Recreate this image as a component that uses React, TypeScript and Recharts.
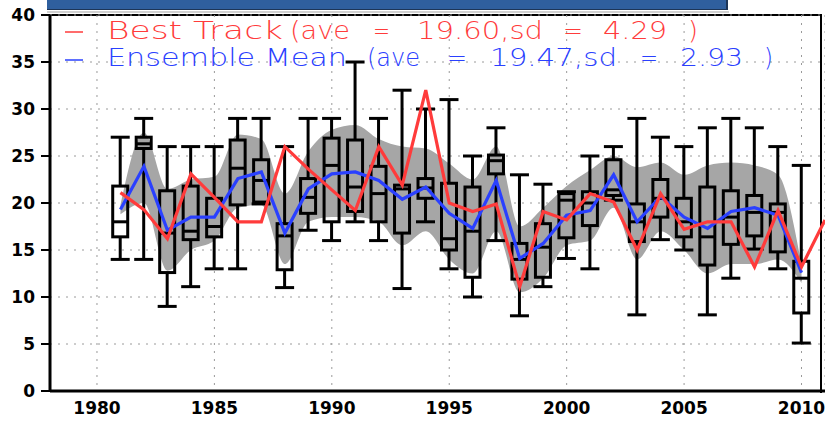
import React from 'react';
import { ComposedChart, Area, Bar, Line, XAxis, YAxis, CartesianGrid } from 'recharts';

// Ensemble box statistics per season
const years = [
  1981, 1982, 1983, 1984, 1985, 1986, 1987, 1988, 1989, 1990,
  1991, 1992, 1993, 1994, 1995, 1996, 1997, 1998, 1999, 2000,
  2001, 2002, 2003, 2004, 2005, 2006, 2007, 2008, 2009, 2010,
];
const whiskerHigh = [27, 29, 26, 26, 26, 29, 29, 26, 29, 29, 35, 29, 32, 30, 31, 25, 28, 23, 22, 21.2, 25, 26, 29, 27, 26, 28, 29, 28, 26, 24];
const boxHigh = [21.8, 27, 21.3, 21.8, 20.5, 26.7, 24.6, 17.8, 22.6, 26.9, 26.7, 23.9, 21.9, 22.6, 22.1, 21.7, 25.1, 15.7, 17.8, 21, 21.2, 24.6, 19.9, 22.5, 20.5, 21.7, 21.3, 20.8, 19.9, 13.8];
const medians = [18, 26.3, 16.8, 17, 17.5, 23.7, 22.4, 16.5, 20.6, 24, 21.7, 21, 21.5, 21.6, 16.2, 17, 24.5, 14, 15.3, 20.3, 20, 21.4, 18, 20.5, 18, 16.4, 18.5, 19, 19, 12];
const boxLow = [16.4, 25.8, 12.6, 16.1, 16.4, 19.8, 20.1, 12.9, 18.9, 18, 19.1, 18, 16.8, 20.5, 15, 12.1, 23.1, 11.9, 12.1, 16.3, 17.6, 20.8, 15.9, 18.5, 16.4, 13.4, 15.6, 16.5, 14.8, 8.3];
const whiskerLow = [14, 14, 9, 11.1, 13, 13, 19.9, 11, 17.1, 16, 18, 16, 10.9, 18, 13, 10, 16, 8, 11.1, 14.1, 13, 20.3, 8.1, 16.1, 15, 8.1, 12, 15.1, 13, 5.1];

// Ensemble spread envelope and ensemble mean
const spreadLow = [18.8, 20, 12.8, 15, 16, 19.5, 19.8, 13.5, 18, 18.5, 18.5, 18, 15.5, 17, 14, 12.5, 17, 10.5, 12, 15.5, 16, 19.5, 14, 17, 15, 12.5, 13.5, 13.5, 14, 11.5];
const spreadHigh = [19.8, 27.5, 21.5, 22.5, 22.8, 27.3, 26.8, 21, 25.5, 27.8, 28.3, 26.8, 26, 25.8, 24.2, 22.5, 26, 17.5, 19.5, 21.8, 23.5, 25, 23.8, 24.3, 23, 24, 24.3, 24, 23, 13.5];
const ensembleMean = [19.3, 23.9, 17.1, 18.5, 18.5, 22.6, 23.3, 16.8, 21.5, 23.1, 23.3, 22.4, 20.4, 21.7, 18.9, 17.3, 22.4, 14.1, 15.7, 18.7, 19.2, 23, 18, 20.7, 18.5, 17.3, 19.1, 19.5, 18.7, 12.6];

// Observed best track counts
const bestTrackYears = [
  1981, 1982, 1983, 1984, 1985, 1986, 1987, 1988, 1989, 1990,
  1991, 1992, 1993, 1994, 1995, 1996, 1997, 1998, 1999, 2000,
  2001, 2002, 2003, 2004, 2005, 2006, 2007, 2008, 2009, 2010, 2011,
];
const bestTrack = [21.1, 19.3, 16.2, 23.1, 20.6, 18, 18, 26, 23.6, 21.4, 19.2, 26, 21.9, 32, 20, 19.1, 19.9, 11.1, 19.1, 18.2, 21, 20.1, 15, 21, 17.2, 18, 18, 13.2, 19.2, 13.2, 18.2];

const bestTrackStats = { ave: 19.6, sd: 4.29 };
const ensembleStats = { ave: 19.47, sd: 2.93 };

const xTicks = [1980, 1985, 1990, 1995, 2000, 2005, 2010];
const yTicks = [0, 5, 10, 15, 20, 25, 30, 35, 40];

const RED = '#ff3b3b';
const BLUE = '#2a40ff';
const GREY = '#a6a6a6';

const data = bestTrackYears.map((year, i) => {
  const j = years.indexOf(year);
  const row: any = { year, best: bestTrack[i] };
  if (j >= 0) {
    row.ens = ensembleMean[j];
    row.spread = [spreadLow[j], spreadHigh[j]];
    row.whisker = [whiskerLow[j], whiskerHigh[j]];
    row.q1 = boxLow[j];
    row.med = medians[j];
    row.q3 = boxHigh[j];
  }
  return row;
});

// Box-and-whisker glyph drawn inside the bar spanning the whisker range
const BoxWhisker = (props: any) => {
  const { x, y, width, height, payload } = props;
  if (!payload || !payload.whisker) return null;
  const [lo, hi] = payload.whisker;
  const top = Math.min(y, y + height);
  const h = Math.abs(height);
  const k = h / (hi - lo);
  const py = (v: number) => top + (hi - v) * k;
  const cx = x + width / 2;
  const bw = 15;
  const cw = 19;
  return (
    <g stroke="#000" strokeWidth={3} fill="none">
      <line x1={cx} x2={cx} y1={py(hi)} y2={py(payload.q3)} />
      <line x1={cx} x2={cx} y1={py(payload.q1)} y2={py(lo)} />
      <line x1={cx - cw / 2} x2={cx + cw / 2} y1={py(hi)} y2={py(hi)} />
      <line x1={cx - cw / 2} x2={cx + cw / 2} y1={py(lo)} y2={py(lo)} />
      <rect x={cx - bw / 2} y={py(payload.q3)} width={bw} height={py(payload.q1) - py(payload.q3)} />
      <line x1={cx - bw / 2} x2={cx + bw / 2} y1={py(payload.med)} y2={py(payload.med)} />
    </g>
  );
};

const fmt = (v: number) => v.toFixed(2);

const legendRows = [
  {
    color: RED,
    baseline: 39,
    dashY: 32,
    tokens: [
      ['Best Track', 107, 283],
      ['(ave', 290, 350],
      ['=', 373, 390],
      [`${fmt(bestTrackStats.ave)},sd`, 417, 543],
      ['=', 563, 583],
      [fmt(bestTrackStats.sd), 603, 667],
      [')', 688, 698],
    ],
  },
  {
    color: BLUE,
    baseline: 66,
    dashY: 60,
    tokens: [
      ['Ensemble Mean', 107, 347],
      ['(ave', 367, 420],
      ['=', 447, 467],
      [`${fmt(ensembleStats.ave)},sd`, 490, 617],
      ['=', 640, 658],
      [fmt(ensembleStats.sd), 680, 743],
      [')', 764, 773],
    ],
  },
];

const tickStyle = { fontFamily: 'DejaVu Sans', fontWeight: 700, fontSize: 17, fill: '#000' };

export default function App() {
  return (
    <div style={{ position: 'absolute', left: 0, top: 0, width: 825, height: 422, background: '#fff', overflow: 'hidden' }}>
      {/* title banner strip */}
      <div style={{ position: 'absolute', left: 47, top: -2, width: 679, height: 11, background: '#2f5f9e', borderRight: '2px solid #1d3557', borderBottom: '1px solid #1d3557' }} />
      <div style={{ position: 'absolute', left: 47, top: 11, width: 682, height: 2, background: '#d0d0d0' }} />
      {/* plot frame */}
      <div style={{ position: 'absolute', left: 50, top: 14, width: 770, height: 377, borderTop: '2px solid #000', borderRight: '2px solid #000' }} />
      <div style={{ position: 'absolute', left: 0, top: 0 }}>
        <ComposedChart width={825} height={422} data={data} margin={{ top: 15, right: 0, bottom: 0, left: 0 }}>
          <CartesianGrid stroke="#9a9a9a" strokeDasharray="2 6" />
          <XAxis
            dataKey="year"
            type="number"
            domain={[1978, 2011]}
            ticks={xTicks}
            allowDataOverflow
            height={31}
            tickLine={false}
            tickSize={0}
            tickMargin={11}
            axisLine={{ stroke: '#000', strokeWidth: 3 }}
            tick={tickStyle}
          />
          <YAxis
            type="number"
            domain={[0, 40]}
            ticks={yTicks}
            width={50}
            tickSize={9}
            tickMargin={6}
            tickLine={{ stroke: '#000', strokeWidth: 2 }}
            axisLine={{ stroke: '#000', strokeWidth: 3 }}
            tick={tickStyle}
          />
          <Area
            dataKey={(d: any) => d.spread}
            type="monotone"
            fill={GREY}
            fillOpacity={1}
            stroke="none"
            isAnimationActive={false}
          />
          <Bar
            dataKey={(d: any) => d.whisker}
            barSize={19}
            shape={BoxWhisker}
            isAnimationActive={false}
          />
          <Line dataKey="ens" stroke={BLUE} strokeWidth={3.2} dot={false} isAnimationActive={false} />
          <Line dataKey="best" stroke={RED} strokeWidth={3.2} dot={false} isAnimationActive={false} />
        </ComposedChart>
      </div>
      <svg width={825} height={422} style={{ position: 'absolute', left: 0, top: 0, pointerEvents: 'none' }}>
        {legendRows.map((row, r) => (
          <g key={r} fill={row.color} fontFamily="'DejaVu Sans ExtraLight', 'DejaVu Sans'" fontWeight={200} fontSize={24}>
            <line x1={65} x2={83} y1={row.dashY} y2={row.dashY} stroke={row.color} strokeWidth={1.5} />
            {row.tokens.map(([t, x0, x1], i) => (
              <text key={i} x={x0 as number} y={row.baseline} textLength={(x1 as number) - (x0 as number)} lengthAdjust="spacingAndGlyphs">
                {t as string}
              </text>
            ))}
          </g>
        ))}
      </svg>
    </div>
  );
}
